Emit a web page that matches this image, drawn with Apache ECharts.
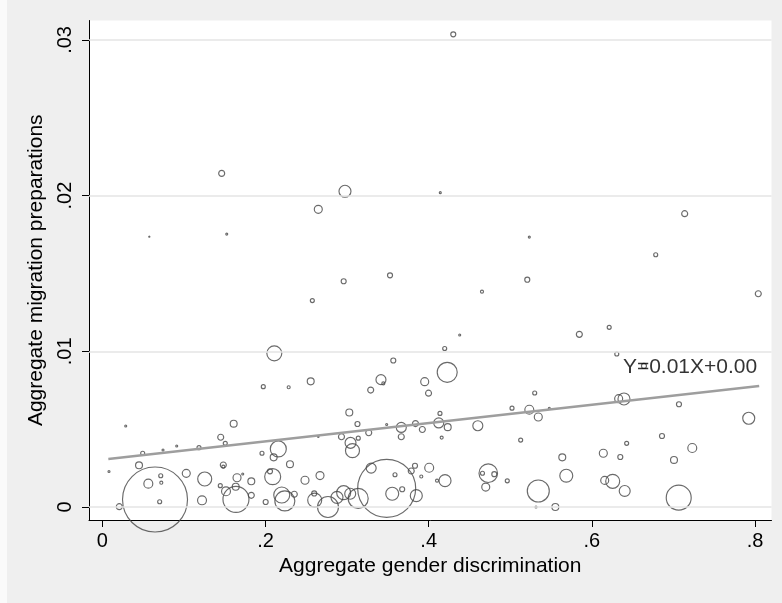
<!DOCTYPE html>
<html>
<head>
<meta charset="utf-8">
<script src="https://cdn.jsdelivr.net/npm/echarts@6/dist/echarts.min.js"></script>
<style>
html,body{margin:0;padding:0;background:#efefef;}
#chart{width:782px;height:603px;}
</style>
</head>
<body>
<div id="chart"></div>
<script>
// Aggregate gender discrimination (x)
const gender = [0.4301,0.1463,0.1525,0.0576,0.2574,0.2108,0.1973,0.2284,0.2554,0.2647,
0.2974,0.4142,0.5233,0.2958,0.3526,0.5208,0.4653,0.4380,0.4196,0.3566,
0.3415,0.3444,0.3951,0.4227,0.3289,0.7137,0.6782,0.8039,0.5846,0.6212,
0.6305,0.6638,0.0287,0.1610,0.1451,0.1507,0.0495,0.0744,0.0912,0.1185,
0.2157,0.1957,0.2100,0.0082,0.0450,0.0646,0.0716,0.0723,0.0564,0.0703,
0.0208,0.1029,0.1255,0.1222,0.1483,0.1483,0.1651,0.1721,0.1826,0.1446,
0.1516,0.1635,0.1638,0.1826,0.2002,0.2088,0.2055,0.2199,0.2237,0.2300,
0.3998,0.3027,0.3127,0.3485,0.3664,0.3838,0.4123,0.4138,0.4233,0.3922,
0.4602,0.4159,0.3664,0.3265,0.2931,0.3137,0.3042,0.3066,0.2647,0.2668,
0.2484,0.3295,0.3587,0.3832,0.3786,0.3909,0.4006,0.4200,0.4102,0.3485,
0.3553,0.3675,0.3848,0.3136,0.3038,0.2958,0.2876,0.2766,0.2603,0.2597,
0.2353,0.4730,0.4659,0.4804,0.4699,0.4963,0.5299,0.5021,0.5233,0.5478,
0.5343,0.6328,0.6393,0.7067,0.7922,0.5127,0.6426,0.6859,0.7230,0.5637,
0.6140,0.6348,0.7006,0.5686,0.6157,0.6255,0.6402,0.5343,0.7064,0.5552,
0.5315];
// Aggregate migration preparations (y)
const migration = [0.03036,0.02143,0.01753,0.01736,0.01326,0.00987,0.00773,0.00769,0.00807,0.01912,
0.02028,0.02019,0.01734,0.01450,0.01488,0.01460,0.01383,0.01105,0.01018,0.00941,
0.00818,0.00794,0.00805,0.00865,0.00751,0.01884,0.01620,0.01370,0.01109,0.01154,
0.00983,0.00906,0.00520,0.00535,0.00448,0.00409,0.00345,0.00366,0.00392,0.00381,
0.00373,0.00345,0.00319,0.00228,0.00268,0.00048,0.00201,0.00156,0.00150,0.00034,
0.00002,0.00216,0.00180,0.00043,0.00270,0.00259,0.00188,0.00212,0.00165,0.00137,
0.00101,0.00130,0.00049,0.00075,0.00032,0.00195,0.00229,0.00077,0.00039,0.00275,
0.00731,0.00607,0.00533,0.00530,0.00511,0.00536,0.00540,0.00601,0.00513,0.00498,
0.00522,0.00446,0.00451,0.00477,0.00451,0.00442,0.00412,0.00362,0.00452,0.00202,
0.00172,0.00250,0.00207,0.00265,0.00231,0.00196,0.00252,0.00169,0.00169,0.00120,
0.00085,0.00114,0.00073,0.00055,0.00085,0.00092,0.00062,0.00000,0.00044,0.00087,
0.00082,0.00217,0.00217,0.00211,0.00128,0.00168,0.00732,0.00635,0.00625,0.00634,
0.00578,0.00696,0.00694,0.00660,0.00570,0.00430,0.00409,0.00456,0.00379,0.00319,
0.00345,0.00321,0.00302,0.00201,0.00171,0.00165,0.00103,0.00103,0.00060,0.00000,
0.00000];
// analytic weights (marker area proportional)
const weight = [6.3,9,1,0.3,4,56,4,2.3,12,16,
36,1,1,6.3,6.3,6.3,2.3,1,4,6.3,
25,2.3,16,100,9,9,4,9,9,4,
4,6.3,1,12,9,4,4,1,1,4,
64,4,12,1,12,1056,4,2.3,20,4,
9,16,49,20,9,2.3,16,1,12,4,
20,12,169,9,6.3,64,6.3,64,100,12,
9,12,6.3,1,25,9,25,4,12,9,
25,2.3,9,9,9,4,30,49,0.5,16,
16,25,4,6.3,9,2.3,20,36,2.3,841,
42,6.3,36,100,30,49,36,110,49,6.3,
9,86,4,6.3,16,4,4,4,20,1,
16,16,36,6.3,36,4,4,6.3,20,12,
16,6.3,12,42,16,49,30,121,156,12,
1];
const xTicks = [0, 0.2, 0.4, 0.6, 0.8];
const yTicks = [0, 0.01, 0.02, 0.03];
const fitRange = [0.0074, 0.805];
const fitSlope = 0.00588;
const fitIntercept = 0.00304;
const fitLabel = 'Y=0.01X+0.00';
const fitLabelAt = [0.638, 0.00901];

const FONT = '"Liberation Sans", Arial, Helvetica, sans-serif';
const fmt = v => {
  if (Math.abs(v) < 1e-12) return '0';
  return String(+v.toFixed(4)).replace(/^0\./, '.');
};

const points = gender.map((g, i) => [g, migration[i], weight[i]]);
const fitData = fitRange.map(x => [x, fitIntercept + fitSlope * x]);

const chart = echarts.init(document.getElementById('chart'), null, {renderer: 'canvas'});
chart.setOption({
  animation: false,
  backgroundColor: '#efefef',
  graphic: [{
    type: 'rect', z: -10, silent: true,
    shape: {x: 0, y: 0, width: 7, height: 603},
    style: {fill: '#fafafa'}
  }, {
    type: 'rect', z: -9, silent: true,
    shape: {x: 89, y: 20.5, width: 682.5, height: 499.5},
    style: {fill: '#ffffff'}
  }],
  grid: {left: 89, top: 20.5, right: 10.5, bottom: 83, containLabel: false},
  xAxis: {
    type: 'value',
    min: -0.0163, max: 0.8201,
    name: 'Aggregate gender discrimination',
    nameLocation: 'middle', nameGap: 36,
    nameTextStyle: {fontFamily: FONT, fontSize: 21, color: '#000'},
    axisLine: {show: true, onZero: false, lineStyle: {color: '#000', width: 1}},
    axisTick: {show: true, length: 7, lineStyle: {color: '#000'}, customValues: xTicks},
    axisLabel: {fontFamily: FONT, fontSize: 20, color: '#000', margin: 11, customValues: xTicks, formatter: fmt},
    splitLine: {show: false}
  },
  yAxis: {
    type: 'value',
    min: -0.000835, max: 0.03125,
    name: 'Aggregate migration preparations',
    nameLocation: 'middle', nameGap: 38,
    nameTextStyle: {fontFamily: FONT, fontSize: 21, color: '#000'},
    axisLine: {show: true, onZero: false, lineStyle: {color: '#000', width: 1}},
    axisTick: {show: true, length: 7, lineStyle: {color: '#000'}, customValues: yTicks},
    axisLabel: {fontFamily: FONT, fontSize: 20, color: '#000', margin: 14, rotate: 90, customValues: yTicks, formatter: fmt},
    splitLine: {show: false}
  },
  series: [{
    type: 'line',
    data: yTicks.map(() => null),
    silent: true,
    markLine: {
      silent: true, symbol: ['none', 'none'], label: {show: false},
      lineStyle: {color: '#e4e4e4', width: 1.5, type: 'solid'},
      data: yTicks.map(v => ({yAxis: v}))
    }
  }, {
    type: 'scatter',
    data: points,
    symbol: 'circle',
    symbolSize: d => Math.max(1, 2 * Math.sqrt(d[2])),
    itemStyle: {color: 'rgba(0,0,0,0)', borderColor: '#454545', borderWidth: 1.15},
    z: 3
  }, {
    type: 'line',
    data: fitData,
    symbol: 'none',
    lineStyle: {color: '#9e9e9e', width: 2.6},
    z: 4
  }, {
    type: 'scatter',
    data: [fitLabelAt],
    symbolSize: 0,
    label: {
      show: true, position: 'right', distance: 0,
      formatter: fitLabel,
      fontFamily: FONT, fontSize: 21, color: '#000'
    },
    z: 5
  }]
});
</script>
</body>
</html>
